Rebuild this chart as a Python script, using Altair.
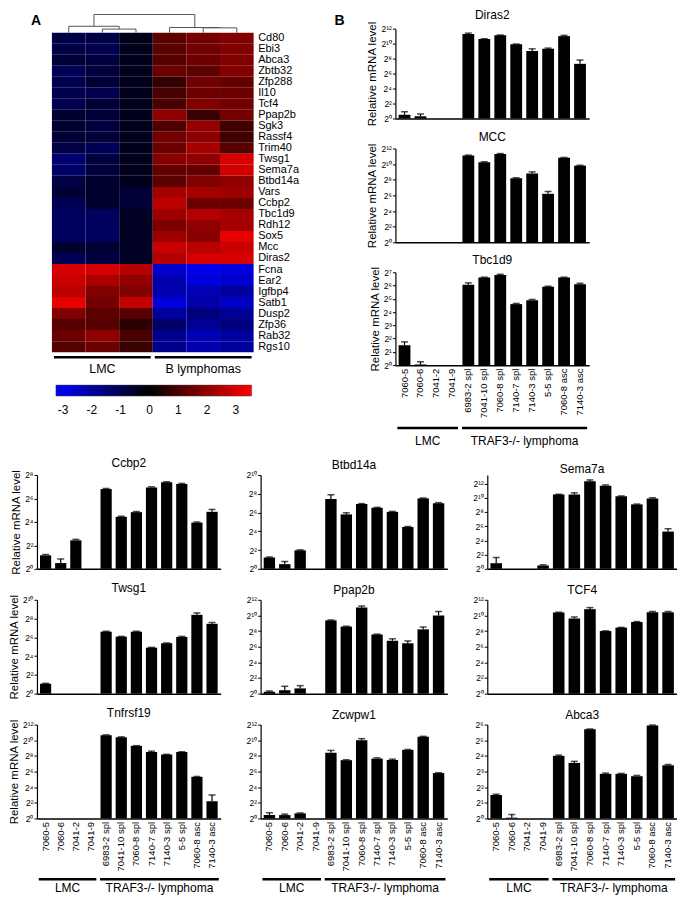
import json
import altair as alt
import pandas as pd

FONT = "Liberation Sans"

# ---------------- Panel A: heatmap data ----------------
genes = ["Cd80", "Ebi3", "Abca3", "Zbtb32", "Zfp288", "Il10", "Tcf4", "Ppap2b", "Sgk3",
         "Rassf4", "Trim40", "Twsg1", "Sema7a", "Btbd14a", "Vars", "Ccbp2", "Tbc1d9",
         "Rdh12", "Sox5", "Mcc", "Diras2", "Fcna", "Ear2", "Igfbp4", "Satb1", "Dusp2",
         "Zfp36", "Rab32", "Rgs10"]
hm_samples = ["LMC 1", "LMC 2", "LMC 3", "B ly 1", "B ly 2", "B ly 3"]
lmc_1 = [-0.9, -0.9, -0.7, -1.1, -1.0, -1.0, -1.0, -0.6, -0.6, -0.7, -0.9, -1.4, -1.3, -0.9, -0.7,
         -1.1, -1.2, -1.2, -1.2, -0.6, -1.1, 3.0, 2.8, 2.6, 3.2, 1.8, 1.2, 1.5, 1.2]
lmc_2 = [-0.9, -1.0, -0.8, -0.8, -0.7, -1.0, -0.7, -0.7, -0.8, -0.7, -1.1, -0.8, -0.8, -0.6, -0.6,
         -0.6, -1.2, -1.2, -1.2, -0.7, -0.8, 3.0, 2.4, 1.8, 1.6, 1.3, 1.2, 2.0, 1.5]
lmc_3 = [-0.35, -0.35, -0.35, -0.35, -0.35, -0.35, -0.35, -0.35, -0.35, -0.35, -0.35, -0.35, -0.35,
         -0.35, -0.7, -0.7, -0.45, -0.45, -0.45, -0.45, -0.45, 2.5, 2.0, 1.8, 2.7, 1.2, 0.6, 1.0, 0.8]
bly_1 = [1.3, 1.3, 1.2, 1.5, 0.7, 1.0, 1.0, 2.0, 1.1, 1.6, 1.5, 1.9, 1.4, 1.3, 2.3,
         2.6, 2.2, 1.7, 2.2, 2.8, 2.5, -2.6, -2.2, -2.2, -2.8, -2.0, -1.3, -1.8, -1.8]
bly_2 = [1.6, 1.6, 1.5, 1.3, 1.6, 1.5, 1.8, 0.8, 2.1, 1.9, 2.3, 2.0, 1.4, 1.8, 2.3,
         1.5, 2.5, 2.0, 1.9, 2.6, 3.0, -3.0, -2.8, -2.3, -2.1, -1.6, -1.9, -2.3, -2.2]
bly_3 = [1.8, 1.8, 1.8, 1.8, 1.4, 1.5, 1.6, 1.6, 0.9, 0.9, 1.2, 3.0, 2.9, 2.0, 2.2,
         1.5, 2.3, 2.3, 3.2, 2.8, 3.0, -2.8, -2.6, -2.0, -2.5, -1.9, -1.6, -2.0, -2.0]
hm_cols = [lmc_1, lmc_2, lmc_3, bly_1, bly_2, bly_3]
legend_ticks = [-3, -2, -1, 0, 1, 2, 3]

# dendrogram merges: (left node, right node, merge height)
dendro_merges = [("LMC 2", "LMC 3", 4.3), ("LMC 1", "m1", 7.7),
                 ("B ly 2", "B ly 3", 5.8), ("B ly 1", "m3", 6.2), ("m2", "m4", 22.0)]
hm_groups = ["LMC", "B lymphomas"]
hm_group_sizes = [3, 3]

# ---------------- bar chart data (log2 relative mRNA) ----------------
samples = ["7060-5", "7060-6", "7041-2", "7041-9", "6983-2 spl", "7041-10 spl", "7060-8 spl",
           "7140-7 spl", "7140-3 spl", "5-5 spl", "7060-8 asc", "7140-3 asc"]
bar_groups = ["LMC", "TRAF3-/- lymphoma"]
bar_group_sizes = [4, 8]

diras2 = [0.5, 0.3, 0, 0, 11.3, 10.6, 11.1, 9.9, 9.0, 9.3, 11.0, 7.3]
diras2_err = [0.4, 0.3, 0, 0, 0.1, 0.05, 0.05, 0.05, 0.3, 0.1, 0.1, 0.5]
mcc = [0, 0, 0, 0, 11.1, 10.25, 11.3, 8.2, 8.8, 6.2, 10.8, 9.8]
mcc_err = [0, 0, 0, 0, 0.05, 0.05, 0.05, 0.05, 0.2, 0.3, 0.05, 0.05]
tbc1d9 = [1.5, 0.05, 0, 0, 6.05, 6.6, 6.8, 4.6, 4.9, 5.9, 6.6, 6.1]
tbc1d9_err = [0.25, 0.2, 0, 0, 0.15, 0.03, 0.05, 0.05, 0.05, 0.05, 0.03, 0.07]
ccbp2 = [1.15, 0.49, 2.43, 0, 6.8, 4.43, 4.83, 6.94, 7.37, 7.23, 3.94, 4.86]
ccbp2_err = [0.07, 0.35, 0.08, 0, 0.05, 0.05, 0.05, 0.05, 0.05, 0.05, 0.05, 0.2]
btbd14a = [1.2, 0.5, 1.97, 0, 7.44, 5.8, 6.9, 6.5, 6.07, 4.46, 7.5, 6.98]
btbd14a_err = [0.05, 0.28, 0.05, 0, 0.45, 0.17, 0.05, 0.05, 0.05, 0.05, 0.05, 0.07]
sema7a = [0.79, 0, 0, 0.46, 10.44, 10.44, 12.3, 11.7, 10.2, 9.06, 9.9, 5.24]
sema7a_err = [0.8, 0, 0, 0.1, 0.05, 0.25, 0.2, 0.1, 0.05, 0.05, 0.1, 0.4]
twsg1 = [1.05, 0, 0, 0, 6.6, 6.07, 6.6, 4.9, 5.37, 6.04, 8.4, 7.44]
twsg1_err = [0.05, 0, 0, 0, 0.05, 0.03, 0.05, 0.03, 0.03, 0.06, 0.2, 0.14]
ppap2b = [0.23, 0.44, 0.67, 0, 9.37, 8.57, 11.0, 7.56, 6.76, 6.44, 8.22, 10.0]
ppap2b_err = [0.12, 0.5, 0.35, 0, 0.05, 0.05, 0.2, 0.05, 0.25, 0.3, 0.3, 0.5]
tcf4 = [0, 0, 0, 0, 10.36, 9.6, 10.8, 8.0, 8.44, 9.16, 10.4, 10.4]
tcf4_err = [0, 0, 0, 0, 0.05, 0.2, 0.2, 0.03, 0.03, 0.05, 0.1, 0.1]
tnfrsf19 = [0, 0, 0, 0, 10.64, 10.38, 9.28, 8.5, 8.17, 8.5, 5.32, 2.2]
tnfrsf19_err = [0, 0, 0, 0, 0.05, 0.05, 0.03, 0.1, 0.03, 0.03, 0.05, 0.8]
zcwpw1 = [0.43, 0.43, 0.65, 0, 8.4, 7.45, 10.0, 7.65, 7.48, 8.77, 10.45, 5.8]
zcwpw1_err = [0.3, 0.12, 0.05, 0, 0.3, 0.05, 0.2, 0.1, 0.1, 0.05, 0.05, 0.05]
abca3 = [1.5, 0.05, 0, 0, 4.0, 3.55, 5.7, 2.85, 2.85, 2.7, 5.95, 3.4]
abca3_err = [0.05, 0.2, 0, 0, 0.05, 0.1, 0.02, 0.05, 0.03, 0.05, 0.02, 0.05]

SUP = ["⁰", "¹", "²", "³", "⁴", "⁵", "⁶", "⁷", "⁸", "⁹", "¹⁰", "¹¹", "¹²", "¹³", "¹⁴"]
SUP_EXPR = "'2' + " + json.dumps(SUP, ensure_ascii=False) + "[datum.value]"


# ---------------- builders ----------------
def bar_chart(title, vals, errs, ymax, step, width, height, show_x, ytitle, domain_max=None):
    df = pd.DataFrame({"sample": samples, "v": vals, "e": errs})
    df["top"] = df["v"] + df["e"]
    base = alt.Chart(df)
    xscale = alt.Scale(paddingInner=0.26, paddingOuter=0.2)
    xaxis = alt.Axis(labels=show_x, ticks=False, labelAngle=-90, labelFontSize=9.5,
                     labelFont=FONT, labelColor="black", labelPadding=3,
                     labelOverlap=False, domainColor="black", domainWidth=1.5, title=None)
    yscale = alt.Scale(domain=[0, domain_max if domain_max else ymax], nice=False, zero=True)
    yaxis = alt.Axis(values=list(range(0, ymax + 1, step)), labelExpr=SUP_EXPR, grid=False,
                     labelOverlap=False, labelFontSize=8.5, labelFont=FONT, labelColor="black",
                     tickColor="black", tickSize=3, labelPadding=1, domainColor="black",
                     domainWidth=1.2, title=ytitle if ytitle else None, titleFont=FONT,
                     titleFontSize=11.5, titleFontWeight="normal", titleColor="black",
                     titlePadding=3)
    xenc = alt.X("sample:N", sort=samples, scale=xscale, axis=xaxis)
    bars = base.mark_bar(color="black").encode(
        x=xenc, y=alt.Y("v:Q", scale=yscale, axis=yaxis))
    err = base.transform_filter("datum.e > 0").mark_rule(color="black", strokeWidth=1.2).encode(
        x=xenc, y=alt.Y("v:Q", scale=yscale, axis=yaxis), y2="top:Q")
    cap = base.transform_filter("datum.e > 0").mark_tick(color="black", thickness=1.5, size=7).encode(
        x=xenc, y=alt.Y("top:Q", scale=yscale, axis=yaxis))
    return alt.layer(bars, err, cap).properties(
        width=width, height=height,
        title=alt.TitleParams(title, fontSize=12, font=FONT, fontWeight="normal", color="black",
                              offset=-1, frame="group"))


def group_annot(names, sizes, width, height, line_y, text_y, gap, fs):
    starts, s = [], 0
    for n in sizes:
        starts.append(s)
        s += n
    total = s
    df = pd.DataFrame({"g": names, "s": starts, "n": sizes})
    df["a"] = df["s"] + gap
    df["b"] = df["s"] + df["n"] - gap
    df["m"] = df["s"] + df["n"] / 2
    xs = alt.Scale(domain=[0, total], nice=False, zero=False)
    rule = alt.Chart(df).mark_rule(color="black", strokeWidth=2.5).encode(
        x=alt.X("a:Q", scale=xs, axis=None), x2="b:Q", y=alt.value(line_y))
    text = alt.Chart(df).mark_text(font=FONT, fontSize=fs, baseline="middle", color="black").encode(
        x=alt.X("m:Q", scale=xs, axis=None), y=alt.value(text_y), text="g:N")
    return alt.layer(rule, text).properties(width=width, height=height)


def spacer(width, height, letter=None, lx=0, ly=0):
    if letter:
        c = alt.Chart(pd.DataFrame({"t": [letter]})).mark_text(
            font=FONT, fontSize=14, fontWeight="bold", align="left", baseline="top", color="black"
        ).encode(text="t:N", x=alt.value(lx), y=alt.value(ly))
    else:
        c = alt.Chart(pd.DataFrame({"k": [0]})).mark_point(opacity=0)
    return c.properties(width=width, height=height)


# ---------------- layout constants ----------------
LEFT_W = 15     # offset of heat map from the bottom-left plot
MID_W = 68      # gap between heat map labels and panel B
HM_W, HM_H = 202, 320

# ---------------- Panel A ----------------
rows = []
for s, col in zip(hm_samples, hm_cols):
    for g, z in zip(genes, col):
        rows.append({"sample": s, "gene": g, "z": z})
hm_df = pd.DataFrame(rows)

heat = alt.Chart(hm_df).mark_rect().encode(
    x=alt.X("sample:N", sort=hm_samples, axis=None,
            scale=alt.Scale(paddingInner=0, paddingOuter=0)),
    y=alt.Y("gene:N", sort=genes, scale=alt.Scale(paddingInner=0, paddingOuter=0),
            axis=alt.Axis(orient="right", title=None, ticks=False, domain=False, labelFontSize=11,
                          labelFont=FONT, labelColor="black", labelPadding=4, labelOverlap=False)),
    color=alt.Color("z:Q",
                    scale=alt.Scale(domain=[-3.25, 0, 3.55], range=["#0000ff", "#000000", "#ff0000"],
                                    interpolate="rgb"),
                    legend=alt.Legend(orient="none", legendX=LEFT_W + 4, legendY=372,
                                      direction="horizontal",
                                      gradientLength=196, gradientThickness=11, title=None,
                                      values=legend_ticks, labelExpr="'' + datum.value",
                                      labelFontSize=12, labelFont=FONT, labelColor="black",
                                      labelOverlap=False, labelOffset=9, padding=0,
                                      gradientStrokeColor="#444", gradientStrokeWidth=0.5))
).properties(width=HM_W, height=HM_H)

leaf_x = {s: i + 0.5 for i, s in enumerate(hm_samples)}
node_x = dict(leaf_x)
node_h = {s: 0.0 for s in hm_samples}
segs = []
for i, (a, b, h) in enumerate(dendro_merges, start=1):
    xa, xb = node_x[a], node_x[b]
    segs.append({"x": xa, "x2": xa, "y": node_h[a], "y2": h})
    segs.append({"x": xb, "x2": xb, "y": node_h[b], "y2": h})
    segs.append({"x": xa, "x2": xb, "y": h, "y2": h})
    node_x[f"m{i}"] = (xa + xb) / 2
    node_h[f"m{i}"] = h
dendro = alt.Chart(pd.DataFrame(segs)).mark_rule(color="#555", strokeWidth=1).encode(
    x=alt.X("x:Q", scale=alt.Scale(domain=[0, 6], nice=False, zero=False), axis=None),
    x2="x2:Q",
    y=alt.Y("y:Q", scale=alt.Scale(domain=[0, 23], nice=False), axis=None),
    y2="y2:Q",
).properties(width=HM_W, height=19)

annotA = group_annot(hm_groups, hm_group_sizes, HM_W, 25, 5, 17, 0.06, 12.5)
panelA = alt.vconcat(dendro, heat, annotA, spacing=0, bounds="flush")

# ---------------- Panel B ----------------
BW = 194
cD = bar_chart("Diras2", diras2, diras2_err, 12, 2, BW, 90, False, "Relative mRNA level")
cM = bar_chart("MCC", mcc, mcc_err, 12, 2, BW, 94, False, "Relative mRNA level")
cT = bar_chart("Tbc1d9", tbc1d9, tbc1d9_err, 7, 1, BW, 93, True, "Relative mRNA level")
annotB = group_annot(bar_groups, bar_group_sizes, BW, 30, 4, 17, 0.12, 12)
panelB = alt.vconcat(spacer(BW, 15), cD, spacer(BW, 30), cM, spacer(BW, 30), cT,
                     spacer(BW, 59), annotB, spacing=0, bounds="flush")

topRow = alt.hconcat(spacer(LEFT_W, 19, "A", lx=-6, ly=0), panelA,
                     spacer(MID_W, 15, "B", lx=36, ly=0), panelB, spacing=0)

# ---------------- bottom grid ----------------
CW = [184, 187, 190]
GW = [40, 40]
RH = 94
grid_cells = []


def add_row(charts):
    grid_cells.extend([charts[0], spacer(GW[0], 10), charts[1], spacer(GW[1], 10), charts[2]])


def add_gap(h):
    grid_cells.extend([spacer(CW[0], h), spacer(GW[0], h), spacer(CW[1], h), spacer(GW[1], h),
                       spacer(CW[2], h)])


add_row([bar_chart("Ccbp2", ccbp2, ccbp2_err, 8, 2, CW[0], RH, False, "Relative mRNA level"),
         bar_chart("Btbd14a", btbd14a, btbd14a_err, 10, 2, CW[1], RH, False, None),
         bar_chart("Sema7a", sema7a, sema7a_err, 12, 2, CW[2], RH, False, None, domain_max=13.2)])
add_gap(31)
add_row([bar_chart("Twsg1", twsg1, twsg1_err, 10, 2, CW[0], RH, False, "Relative mRNA level"),
         bar_chart("Ppap2b", ppap2b, ppap2b_err, 12, 2, CW[1], RH, False, None),
         bar_chart("TCF4", tcf4, tcf4_err, 12, 2, CW[2], RH, False, None)])
add_gap(31)
add_row([bar_chart("Tnfrsf19", tnfrsf19, tnfrsf19_err, 12, 2, CW[0], RH, True, "Relative mRNA level"),
         bar_chart("Zcwpw1", zcwpw1, zcwpw1_err, 12, 2, CW[1], RH, True, None),
         bar_chart("Abca3", abca3, abca3_err, 6, 1, CW[2], RH, True, None)])
add_gap(57)
add_row([group_annot(bar_groups, bar_group_sizes, w, 22, 4, 13, 0.12, 12) for w in CW])

bottom = alt.concat(*grid_cells, columns=5, spacing=0, bounds="flush")

chart = alt.vconcat(topRow, bottom, spacing=3).properties(
    padding=0, background="white"
).configure_view(stroke=None).configure_axis(labelOverlap=False)

chart.save("out.html", embed_options={"renderer": "svg", "actions": False})
